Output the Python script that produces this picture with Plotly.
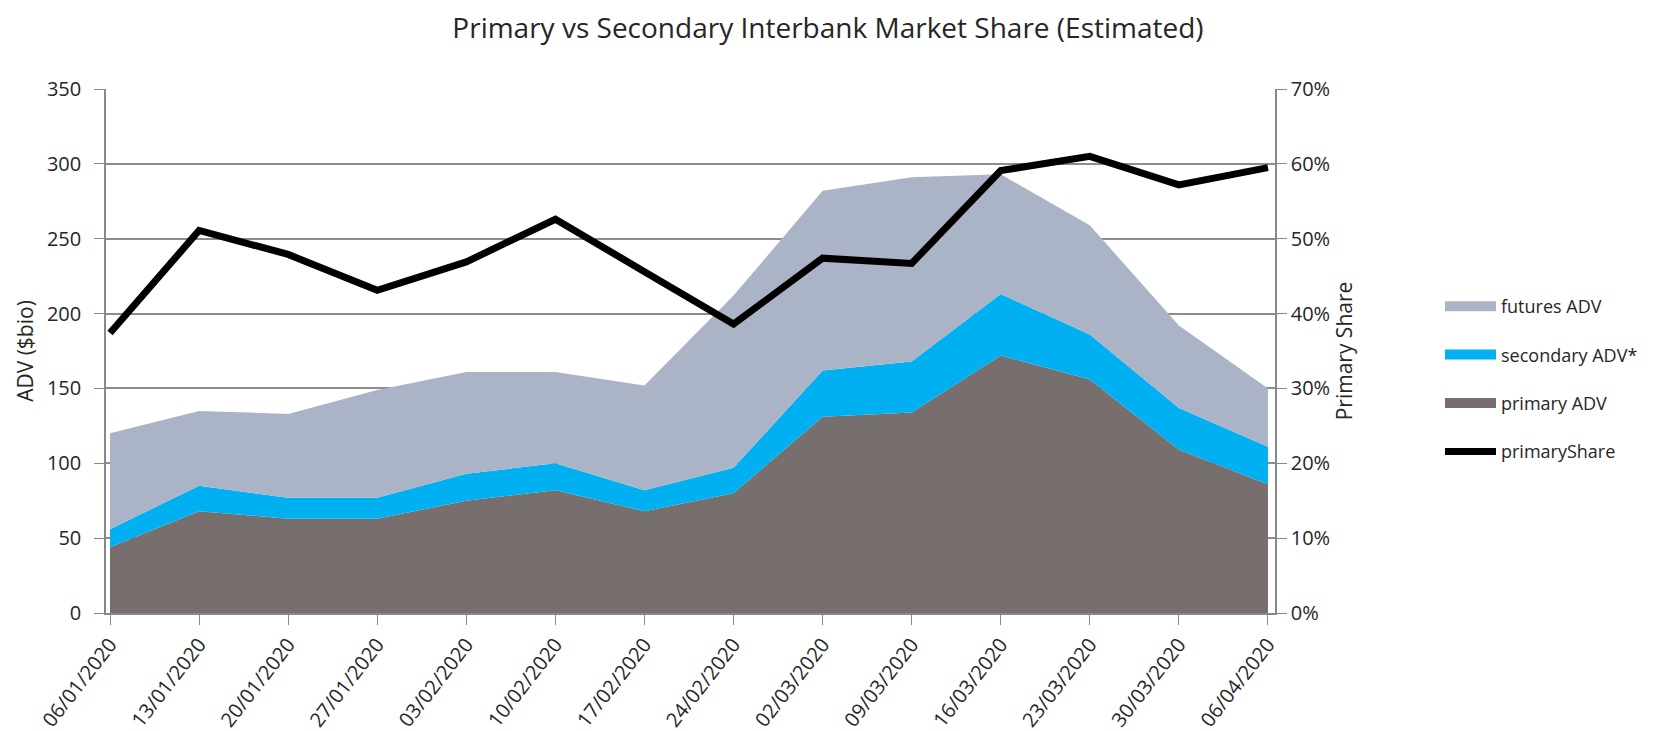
import plotly.graph_objects as go

dates = ["06/01/2020", "13/01/2020", "20/01/2020", "27/01/2020", "03/02/2020",
         "10/02/2020", "17/02/2020", "24/02/2020", "02/03/2020", "09/03/2020",
         "16/03/2020", "23/03/2020", "30/03/2020", "06/04/2020"]
primary_adv = [44, 68, 63, 63, 75, 82, 68, 80, 131, 134, 172, 156, 109, 86]
secondary_adv = [12, 17, 14, 14, 18, 18, 14, 17, 31, 34, 41, 30, 28, 25]
futures_adv = [64, 50, 56, 72, 68, 61, 70, 115, 120, 123, 80, 73, 55, 39]
primary_share = [0.374, 0.511, 0.479, 0.431, 0.469, 0.526, 0.456, 0.386, 0.474,
                 0.467, 0.591, 0.610, 0.572, 0.595]

FONT = "Open Sans"
C_FUT = "#abb4c6"
C_SEC = "#00b0f0"
C_PRI = "#776e6e"
idx = list(range(len(dates)))

fig = go.Figure()
fig.add_trace(go.Scatter(x=idx, y=primary_adv, name="primary ADV", stackgroup="a",
                         mode="none", fillcolor=C_PRI, showlegend=False))
fig.add_trace(go.Scatter(x=idx, y=secondary_adv, name="secondary ADV*", stackgroup="a",
                         mode="none", fillcolor=C_SEC, showlegend=False))
fig.add_trace(go.Scatter(x=idx, y=futures_adv, name="futures ADV", stackgroup="a",
                         mode="none", fillcolor=C_FUT, showlegend=False))
fig.add_trace(go.Scatter(x=idx, y=primary_share, name="primaryShare", yaxis="y2",
                         mode="lines", line=dict(color="black", width=7),
                         legendrank=4, legendgroup="l"))

# legend entries for the stacked areas (thick swatches like the original)
for name, col, rank in [("futures ADV", C_FUT, 1), ("secondary ADV*", C_SEC, 2),
                        ("primary ADV", C_PRI, 3)]:
    fig.add_trace(go.Scatter(x=[None], y=[None], name=name, mode="lines",
                             line=dict(color=col, width=13), legendrank=rank,
                             legendgroup=name, hoverinfo="skip"))

fig.update_layout(
    width=1653, height=731,
    margin=dict(l=98, r=386, t=81, b=126),
    paper_bgcolor="white", plot_bgcolor="white",
    font=dict(family=FONT, color="#262626", size=18),
    title=dict(text="Primary vs Secondary Interbank Market Share (Estimated)",
               x=820/1653, xanchor="center", y=1-20/731, yanchor="middle",
               font=dict(family=FONT, size=28, color="#262626")),
    xaxis=dict(range=[-0.045, 13.079], tickmode="array", tickvals=idx, ticktext=dates,
               tickangle=-52, ticks="outside", ticklen=10, tickcolor="#888888",
               showgrid=False, zeroline=False, showline=True, linecolor="#888888",
               linewidth=1.5, tickfont=dict(size=20), automargin=False),
    yaxis=dict(range=[0, 350], dtick=50, showgrid=True, gridcolor="#8c8c8c", gridwidth=1.5,
               ticks="outside", ticklen=10, tickcolor="#888888", zeroline=False,
               showline=True, linecolor="#888888", linewidth=1.5, ticklabelstandoff=9,
               title=dict(text="ADV ($bio)", standoff=8, font=dict(size=21)),
               tickfont=dict(size=20), automargin=False),
    yaxis2=dict(range=[0, 0.7], dtick=0.1, tickformat=".0%", overlaying="y", side="right",
                showgrid=False, ticks="outside", ticklen=10, tickcolor="#888888",
                zeroline=False, showline=True, linecolor="#888888", linewidth=1.5,
                title=dict(text="Primary Share", standoff=8, font=dict(size=21)),
                tickfont=dict(size=20), automargin=False),
    legend=dict(x=(1432-98)/1169, xanchor="left", y=(605-280)/524, yanchor="top",
                itemwidth=51, tracegroupgap=22, font=dict(size=18),
                bgcolor="rgba(0,0,0,0)"),
)

fig.write_html("out.html")
